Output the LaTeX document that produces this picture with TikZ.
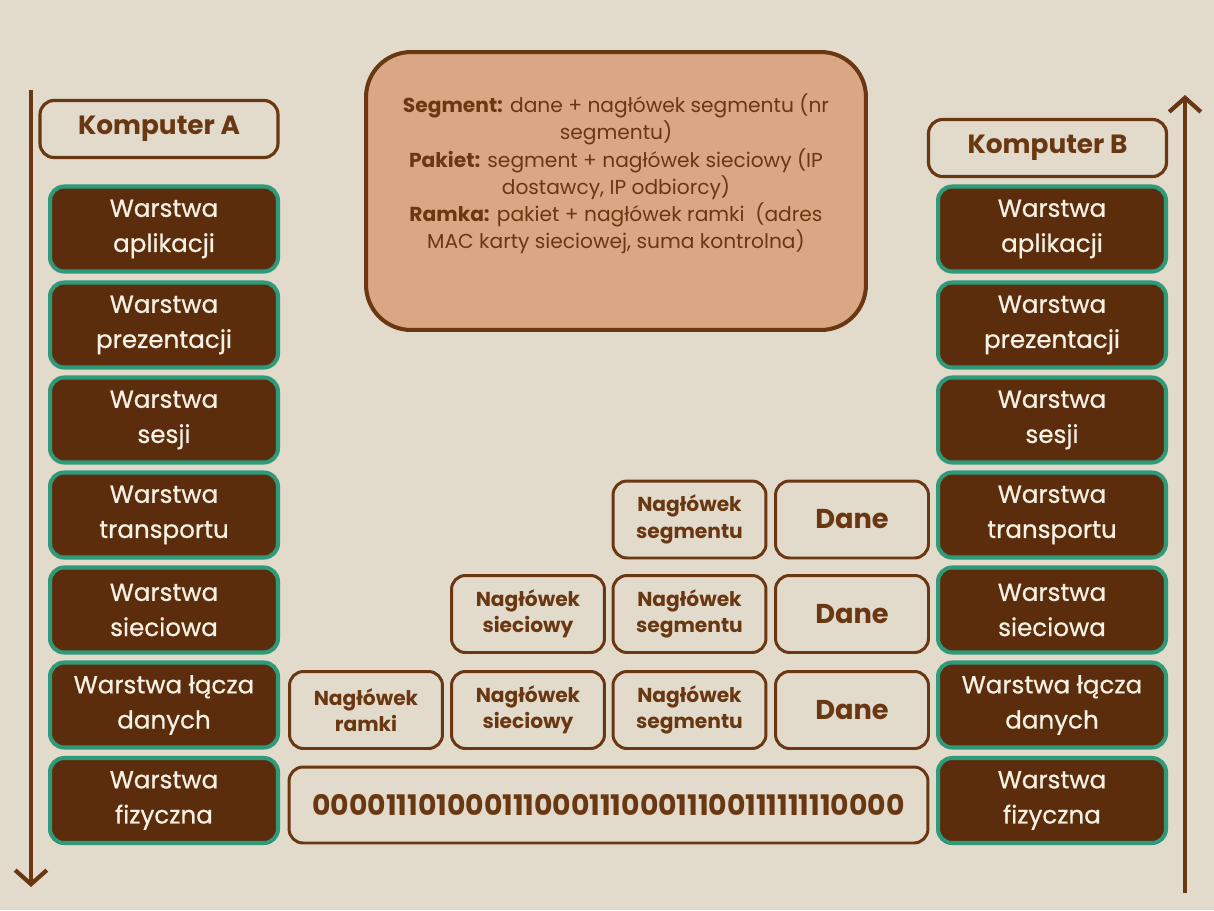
\documentclass[tikz,border=0pt]{standalone}
\usepackage{fontspec}
\setmainfont{Poppins}
\newfontfamily\medfont{Poppins}[FakeBold=0.7]
\usetikzlibrary{arrows.meta}
\definecolor{bgc}{HTML}{E2DACB}
\definecolor{darkb}{HTML}{5C2D0C}
\definecolor{lineb}{HTML}{693711}
\definecolor{teal}{HTML}{2F9A7A}
\definecolor{infof}{HTML}{D9A783}
\definecolor{cream}{HTML}{F7F1E4}
\begin{document}
\begin{tikzpicture}[x=0.02cm,y=-0.02cm,
  layerbox/.style={draw=teal, line width=2.3pt, fill=darkb, rounded corners=0.28cm,
    minimum width=4.56cm, minimum height=1.70cm, inner sep=0pt, align=center,
    text=cream, font=\medfont\fontsize{14}{20}\selectfont},
  compbox/.style={draw=lineb, line width=1.8pt, rounded corners=0.28cm,
    minimum width=4.76cm, minimum height=1.14cm, inner sep=0pt,
    text=lineb, font=\fontsize{15}{18}\selectfont\bfseries},
  pktbox/.style={draw=lineb, line width=1.7pt, rounded corners=0.28cm,
    minimum width=3.06cm, minimum height=1.54cm, inner sep=0pt, align=center,
    text=lineb, font=\fontsize{11.5}{15}\selectfont\bfseries},
  danebox/.style={pktbox, font=\fontsize{15.5}{18}\selectfont\bfseries},
  infobox/.style={draw=lineb, line width=2.3pt, fill=infof, rounded corners=0.9cm,
    minimum width=10cm, minimum height=5.56cm, inner sep=0pt},
  infotext/.style={align=center, text=lineb, inner sep=0pt,
    font=\fontsize{11.5}{15.5}\selectfont},
  flow/.style={draw=lineb, line width=2.4pt, -{Straight Barb[length=8pt,width=18pt,line width=2.4pt]}}
]
\fill[bgc] (0,0) rectangle (1214,910);
\useasboundingbox (0,0) rectangle (1214,910);

% arrows
\coordinate (la1) at (31,90);
\coordinate (la2) at (31,887);
\coordinate (ra1) at (1185,893);
\coordinate (ra2) at (1185,95);
\draw[flow] (la1) -- (la2);
\draw[flow] (ra1) -- (ra2);

% computer labels
\node[compbox] (ka) at (159,129) {Komputer A};
\node[compbox] (kb) at (1047.5,148) {Komputer B};

% left layers
\node[layerbox] (a1) at (164,229) {Warstwa\\aplikacji};
\node[layerbox] (a2) at (164,325) {Warstwa\\prezentacji};
\node[layerbox] (a3) at (164,420) {Warstwa\\sesji};
\node[layerbox] (a4) at (164,515) {Warstwa\\transportu};
\node[layerbox] (a5) at (164,610) {Warstwa\\sieciowa};
\node[layerbox] (a6) at (164,705) {Warstwa łącza\\danych};
\node[layerbox] (a7) at (164,800.5) {Warstwa\\fizyczna};

% right layers
\node[layerbox] (b1) at (1052,229) {Warstwa\\aplikacji};
\node[layerbox] (b2) at (1052,325) {Warstwa\\prezentacji};
\node[layerbox] (b3) at (1052,420) {Warstwa\\sesji};
\node[layerbox] (b4) at (1052,515) {Warstwa\\transportu};
\node[layerbox] (b5) at (1052,610) {Warstwa\\sieciowa};
\node[layerbox] (b6) at (1052,705) {Warstwa łącza\\danych};
\node[layerbox] (b7) at (1052,800.5) {Warstwa\\fizyczna};

% info box
\node[infobox] (info) at (616,191) {};
\node[infotext] (infot) at (616,174) {\textbf{Segment:} dane + nagłówek segmentu (nr\\
segmentu)\\
\textbf{Pakiet:} segment + nagłówek sieciowy (IP\\
dostawcy, IP odbiorcy)\\
\textbf{Ramka:} pakiet + nagłówek ramki\ \ (adres\\
MAC karty sieciowej, suma kontrolna)};

% transport row
\node[pktbox] (t3) at (689.5,519.5) {Nagłówek\\segmentu};
\node[danebox] (t4) at (852,519.5) {Dane};
% network row
\node[pktbox] (n2) at (528,614) {Nagłówek\\sieciowy};
\node[pktbox] (n3) at (689.5,614) {Nagłówek\\segmentu};
\node[danebox] (n4) at (852,614) {Dane};
% data link row
\node[pktbox] (d1) at (366,710) {Nagłówek\\ramki};
\node[pktbox] (d2) at (528,710) {Nagłówek\\sieciowy};
\node[pktbox] (d3) at (689.5,710) {Nagłówek\\segmentu};
\node[danebox] (d4) at (852,710) {Dane};
% physical row
\node[pktbox, minimum width=12.78cm, minimum height=1.52cm] (ph) at (608.5,805)
  {\resizebox{11.84cm}{!}{\bfseries 00001110100011100011100011100111111110000}};
\end{tikzpicture}
\end{document}
